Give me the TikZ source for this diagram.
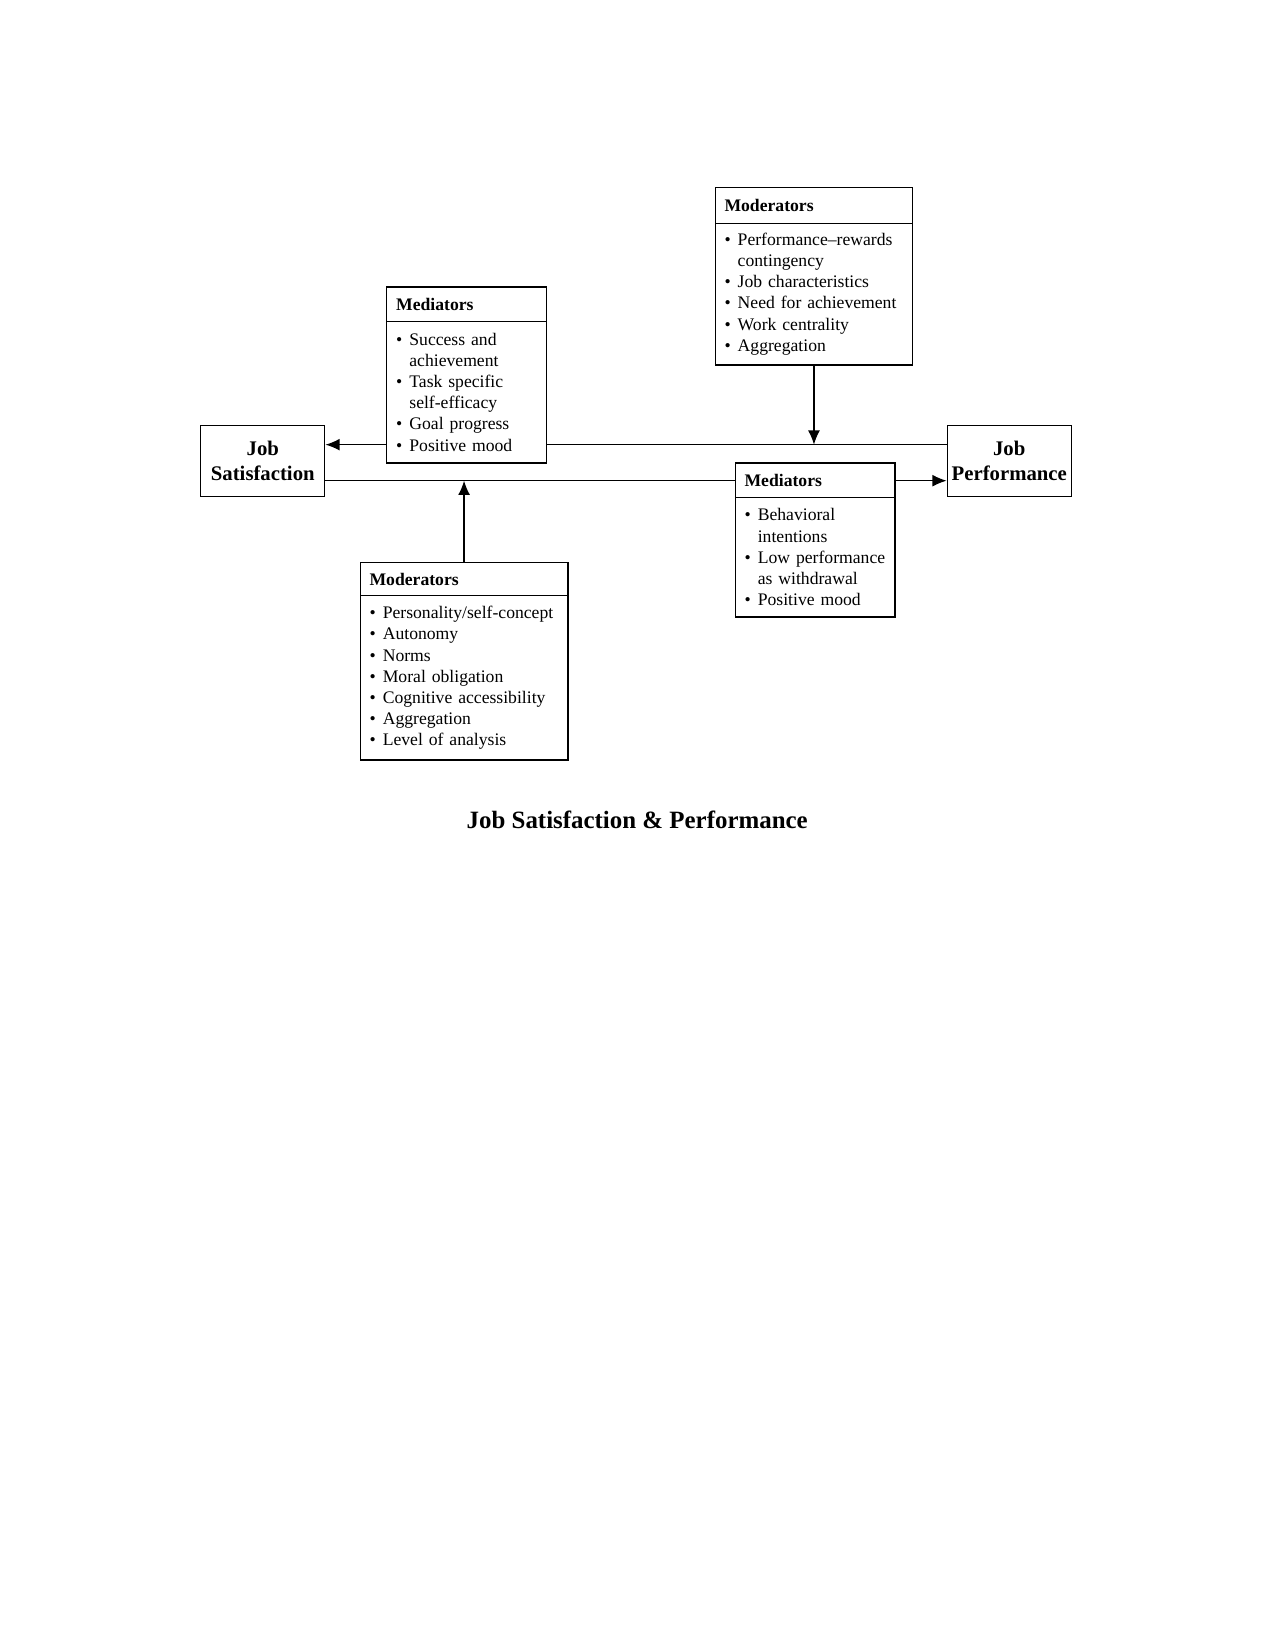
\documentclass[tikz,border=0pt]{standalone}
\usepackage{fontspec}
\setmainfont{Liberation Serif}
\usetikzlibrary{arrows.meta,positioning}

\newcommand{\itm}{\makebox[0.75em][l]{\textbullet}}
\newcommand{\cnt}{\hspace*{0.75em}}

\tikzset{
  jobbox/.style={draw, line width=0.6pt, align=center, font=\fontsize{10}{12}\selectfont\bfseries,
    minimum width=2.10cm, minimum height=1.20cm, inner sep=2pt},
  headbox/.style={draw, line width=0.6pt, anchor=north west, align=left, outer sep=0pt,
    font=\fontsize{8.5}{10.2}\selectfont\bfseries, inner xsep=4.5pt, inner ysep=0pt},
  listbox/.style={draw, line width=0.6pt, anchor=north, align=left, outer sep=0pt,
    font=\fontsize{8.5}{10.2}\selectfont, inner xsep=4.5pt, inner ysep=3pt},
  link/.style={line width=0.6pt},
  arr/.style={link, -{Latex[length=2.4mm,width=2mm]}}
}

\begin{document}
\begin{tikzpicture}
  \useasboundingbox (0,0) rectangle (21.59,27.94);

  % Outcome boxes
  \node[jobbox] (JS) at (4.45,20.13) {Job\\Satisfaction};
  \node[jobbox] (JP) at (17.09,20.13) {Job\\Performance};

  % Mediators, satisfaction side
  \node[headbox, text width=2.39cm, minimum height=0.58cm] (medLhead) at (6.55,23.08) {Mediators};
  \node[listbox, text width=2.39cm, minimum height=2.40cm, below=0pt of medLhead] (medLbody)
    {\itm Success and\\\cnt achievement\\\itm Task specific\\\cnt self-efficacy\\\itm Goal progress\\\itm Positive mood};

  % Moderators, performance side
  \node[headbox, text width=3.03cm, minimum height=0.61cm] (modThead) at (12.11,24.77) {Moderators};
  \node[listbox, text width=3.03cm, minimum height=2.40cm, below=0pt of modThead] (modTbody)
    {\itm Performance--rewards\\\cnt contingency\\\itm Job characteristics\\\itm Need for achievement\\\itm Work centrality\\\itm Aggregation};

  % Mediators, performance side
  \node[headbox, text width=2.39cm, minimum height=0.58cm] (medRhead) at (12.45,20.10) {Mediators};
  \node[listbox, text width=2.39cm, minimum height=2.03cm, below=0pt of medRhead] (medRbody)
    {\itm Behavioral\\\cnt intentions\\\itm \mbox{Low performance}\\\cnt as withdrawal\\\itm Positive mood};

  % Moderators, satisfaction side
  \node[headbox, text width=3.20cm, minimum height=0.57cm] (modBhead) at (6.10,18.42) {Moderators};
  \node[listbox, text width=3.20cm, minimum height=2.78cm, below=0pt of modBhead] (modBbody)
    {\itm Personality/self-concept\\\itm Autonomy\\\itm Norms\\\itm Moral obligation\\\itm Cognitive accessibility\\\itm Aggregation\\\itm Level of analysis};

  % Connecting lines
  \coordinate (topline) at (0,20.41);
  \coordinate (botline) at (0,19.80);
  \draw[link] (JP.west |- topline) -- (medLbody.east |- topline);
  \draw[arr] (medLbody.west |- topline) -- (JS.east |- topline);
  \draw[arr] (modTbody.south) -- (modTbody.south |- topline);
  \draw[link] (JS.east |- botline) -- (medRhead.west |- botline);
  \draw[arr] (medRhead.east |- botline) -- (JP.west |- botline);
  \draw[arr] (modBhead.north) -- (modBhead.north |- botline);

  % Caption
  \node[font=\fontsize{12}{14}\selectfont\bfseries] (title) at (10.79,14.06) {Job Satisfaction \& Performance};
\end{tikzpicture}
\end{document}
